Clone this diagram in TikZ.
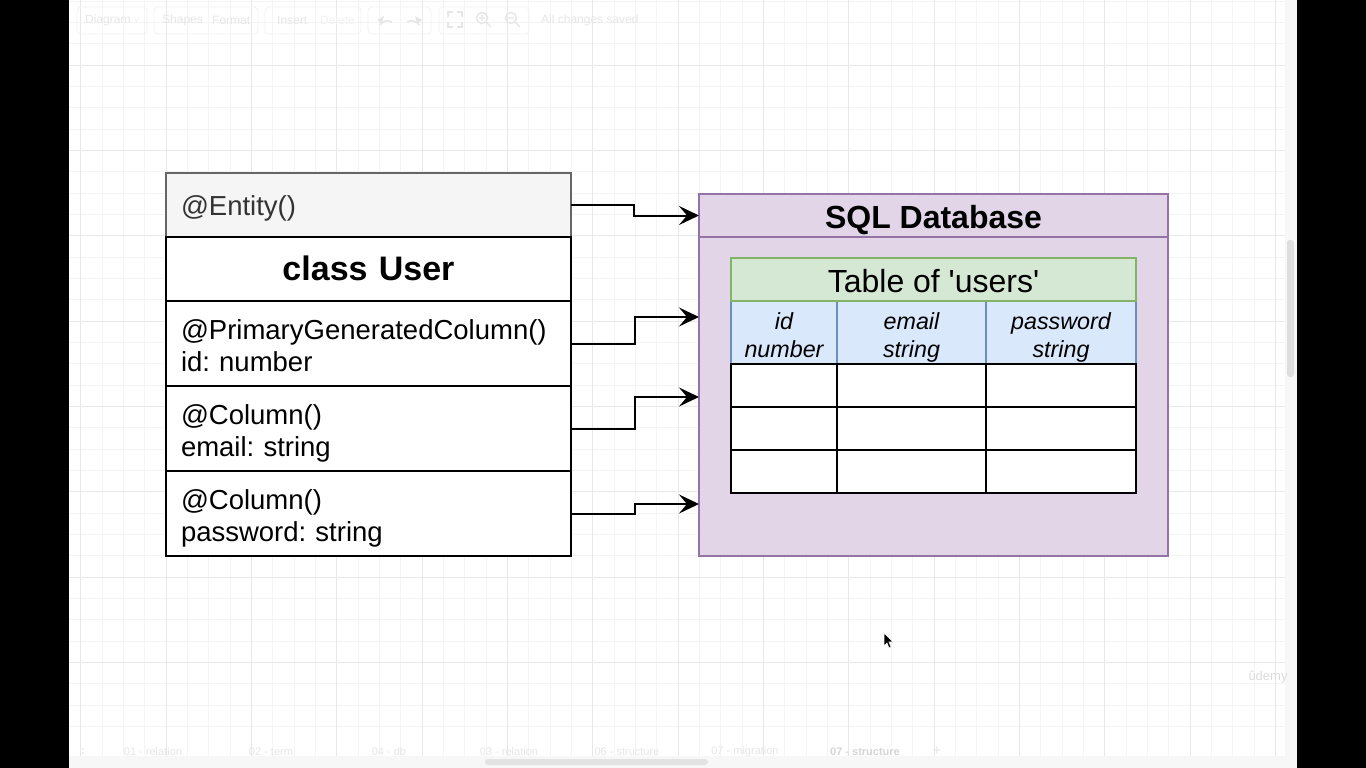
\documentclass[tikz,border=0pt]{standalone}
\usepackage{fontspec}
\setmainfont{Liberation Sans}
\usetikzlibrary{arrows.meta}
\frenchspacing

\definecolor{dbfill}{HTML}{E1D5E7}
\definecolor{dbline}{HTML}{9673A6}
\definecolor{titlefill}{HTML}{D5E8D4}
\definecolor{titleline}{HTML}{82B366}
\definecolor{headfill}{HTML}{DAE8FC}
\definecolor{headline}{HTML}{6C8EBF}
\definecolor{entityfill}{HTML}{F5F5F5}
\definecolor{entityline}{HTML}{666666}
\definecolor{entitytext}{HTML}{333333}
\definecolor{gridminor}{HTML}{F4F4F4}
\definecolor{gridmajor}{HTML}{E8E8E8}
\definecolor{uifaint}{HTML}{E6E6E6}
\definecolor{uibox}{HTML}{F2F2F2}

% line struts: each text line occupies 1.2em, with optional extra room on top
\newcommand\lnfull[1][3pt]{\rule[-0.2535em]{0pt}{\dimexpr1.2em+#1\relax}}
\newcommand\lntop{\rule{0pt}{\dimexpr0.9465em+5pt\relax}}
\newcommand\lnbot{\rule[-0.2535em]{0pt}{0.2535em}}

\tikzset{
  cell/.style={rectangle, inner sep=0pt, outer sep=0pt, anchor=north west},
  classpart/.style={cell, draw=black, fill=white, line width=2pt,
    minimum width=405pt, text width=375pt, align=left,
    font=\fontsize{27.5}{32.4}\selectfont},
  headcell/.style={cell, draw=headline, fill=headfill, line width=2pt,
    minimum height=63pt, align=center,
    font=\itshape\fontsize{23.3}{28}\selectfont},
  bodycell/.style={cell, draw=black, fill=white, line width=2pt, minimum height=43pt},
  conn/.style={line width=2pt, -{Stealth[length=20pt, width=19pt, inset=8pt]}},
  uitext/.style={text=uifaint, font=\fontsize{12}{14}\selectfont, inner sep=0pt},
  tabtext/.style={text=uifaint, font=\fontsize{11}{13}\selectfont, inner sep=0pt},
}

\begin{document}
\begin{tikzpicture}[x=1pt, y=-1pt]
  % page frame: dark side bars and the white canvas
  \fill[black] (0,0) rectangle (1366,768);
  \fill[white] (69,0) rectangle (1297,768);
  \useasboundingbox (0,0) rectangle (1366,768);

  % background grid
  \foreach \k in {0,...,56}
    \draw[gridminor, line width=0.8pt] ({80.7+21.3333*\k},0) -- ({80.7+21.3333*\k},756);
  \foreach \k in {0,...,34}
    \draw[gridminor, line width=0.8pt] (69,{1+21.3333*\k}) -- (1285,{1+21.3333*\k});
  \foreach \k in {0,...,14}
    \draw[gridmajor, line width=0.8pt] ({80.7+85.3333*\k},0) -- ({80.7+85.3333*\k},756);
  \foreach \k in {0,...,7}
    \draw[gridmajor, line width=0.8pt] (69,{65+85.3333*\k}) -- (1285,{65+85.3333*\k});

  % right scroll panel
  \fill[black!3] (1285,0) rectangle (1297,768);
  \fill[black!13, rounded corners=3pt] (1287,240) rectangle (1294,377);

  % bottom tab bar
  \fill[black!3] (69,756) rectangle (1297,768);
  \fill[black!11, rounded corners=3pt] (485,759) rectangle (708,765);
  \node[tabtext] (tabmenu) at (83,752) {\textbf{:}};
  \node[tabtext] (tab1) at (153,752) {01 - relation};
  \node[tabtext] (tab2) at (271,752) {02 - term};
  \node[tabtext] (tab3) at (389,752) {04 - db};
  \node[tabtext] (tab4) at (509,752) {03 - relation};
  \node[tabtext] (tab5) at (627,752) {06 - structure};
  \node[tabtext] (tab6) at (745,752) {07 - migration};
  \node[tabtext, text=black!16, font=\bfseries\fontsize{11}{13}\selectfont] (tab7) at (865,752) {07 - structure};
  \node[tabtext, font=\fontsize{15}{15}\selectfont] (tabadd) at (937,751) {+};

  % faint toolbar
  \foreach \a/\b in {77/147,154/258,265/361,368/431,439/529}
    \draw[uibox, line width=0.8pt, rounded corners=4pt] (\a,7) rectangle (\b,34);
  \node[uitext, anchor=west] (tbdiagram) at (85,20) {Diagram \raisebox{1pt}{\fontsize{8}{8}\selectfont$\vee$}};
  \node[uitext, anchor=west] (tbshapes) at (162,20) {Shapes};
  \node[uitext, anchor=west] (tbformat) at (212,20) {Format};
  \node[uitext, anchor=west] (tbinsert) at (277,20) {Insert};
  \node[uitext, anchor=west, text=black!5] (tbdelete) at (320,20) {Delete};
  \node[uitext, anchor=west] (tbsaved) at (541,20) {All changes saved};
  % undo / redo
  \draw[uifaint, line width=1.5pt] (392,22) arc[start angle=60, end angle=150, radius=9pt];
  \fill[uifaint] (377,20) -- (384,16) -- (382,24) -- cycle;
  \draw[uifaint, line width=1.5pt] (407,22) arc[start angle=120, end angle=30, radius=9pt];
  \fill[uifaint] (422,20) -- (415,16) -- (417,24) -- cycle;
  % fullscreen corners
  \draw[uifaint, line width=1.4pt]
    (448,17) -- (448,12) -- (453,12)  (457,12) -- (462,12) -- (462,17)
    (462,22) -- (462,27) -- (457,27)  (453,27) -- (448,27) -- (448,22);
  % zoom in / zoom out
  \draw[uifaint, line width=1.4pt] (482,18) circle[radius=5.5pt] (486,22) -- (491,27)
    (479,18) -- (485,18) (482,15) -- (482,21);
  \draw[uifaint, line width=1.4pt] (511,18) circle[radius=5.5pt] (515,22) -- (520,27)
    (508,18) -- (514,18);

  % entity class
  \node[classpart, draw=entityline, fill=entityfill, text=entitytext, minimum height=64pt]
    (entity) at (166,173) {\lnfull[2pt]@Entity()};
  \node[classpart, minimum height=64pt, align=center,
        font=\bfseries\fontsize{34}{40.8}\selectfont]
    (cname) at (166,237) {\lnfull[0pt]class User};
  \node[classpart, minimum height=85pt] (colid) at (166,301)
    {\lntop @PrimaryGeneratedColumn()\\id: number\lnbot};
  \node[classpart, minimum height=85pt] (colemail) at (166,386)
    {\lntop @Column()\\email: string\lnbot};
  \node[classpart, minimum height=85pt] (colpwd) at (166,471)
    {\lntop @Column()\\password: string\lnbot};

  % database container
  \node[cell, draw=dbline, fill=dbfill, line width=2pt,
        minimum width=469pt, minimum height=362pt] (db) at (699,194) {};
  \node[cell, draw=dbline, fill=dbfill, line width=2pt,
        minimum width=469pt, minimum height=43pt,
        font=\bfseries\fontsize{32}{38.4}\selectfont] (dbhead) at (699,194) {\lnfull[3pt]SQL Database};

  % users table
  \node[headcell, minimum width=106pt] (hid) at (731,301) {\lntop id\\number\lnbot};
  \node[headcell, minimum width=149pt] (hemail) at (837,301) {\lntop email\\string\lnbot};
  \node[headcell, minimum width=150pt] (hpwd) at (986,301) {\lntop password\\string\lnbot};
  \node[cell, draw=titleline, fill=titlefill, line width=2pt,
        minimum width=405pt, minimum height=43pt,
        font=\fontsize{32}{38.4}\selectfont] (ttitle) at (731,258)
        {\lnfull[3pt]Table of \textquotesingle users\textquotesingle};
  \foreach \r/\y in {1/364,2/407,3/450} {
    \node[bodycell, minimum width=106pt] (row\r-id) at (731,\y) {};
    \node[bodycell, minimum width=149pt] (row\r-email) at (837,\y) {};
    \node[bodycell, minimum width=150pt] (row\r-pwd) at (986,\y) {};
  }

  % connector end points on the database box
  \coordinate (in2) at (699,317);
  \coordinate (in3) at (699,397);
  \coordinate (in4) at (699,504);

  % connectors
  \draw[conn] (entity.east) -- ++(63,0) |- (dbhead.west);
  \draw[conn] (colid.east) -- ++(64,0) |- (in2);
  \draw[conn] (colemail.east) -- ++(64,0) |- (in3);
  \draw[conn] (colpwd.east) -- ++(64,0) |- (in4);

  % mouse pointer
  \filldraw[fill=black, draw=white, line width=0.6pt]
    (884,633) -- (884,646) -- (887,643) -- (889,648) -- (891,647) -- (889,642) -- (893,642) -- cycle;

  % watermark
  \node[text=black!14, font=\fontsize{13}{13}\selectfont, inner sep=0pt] (mark) at (1268,677) {ûdemy};
\end{tikzpicture}
\end{document}
